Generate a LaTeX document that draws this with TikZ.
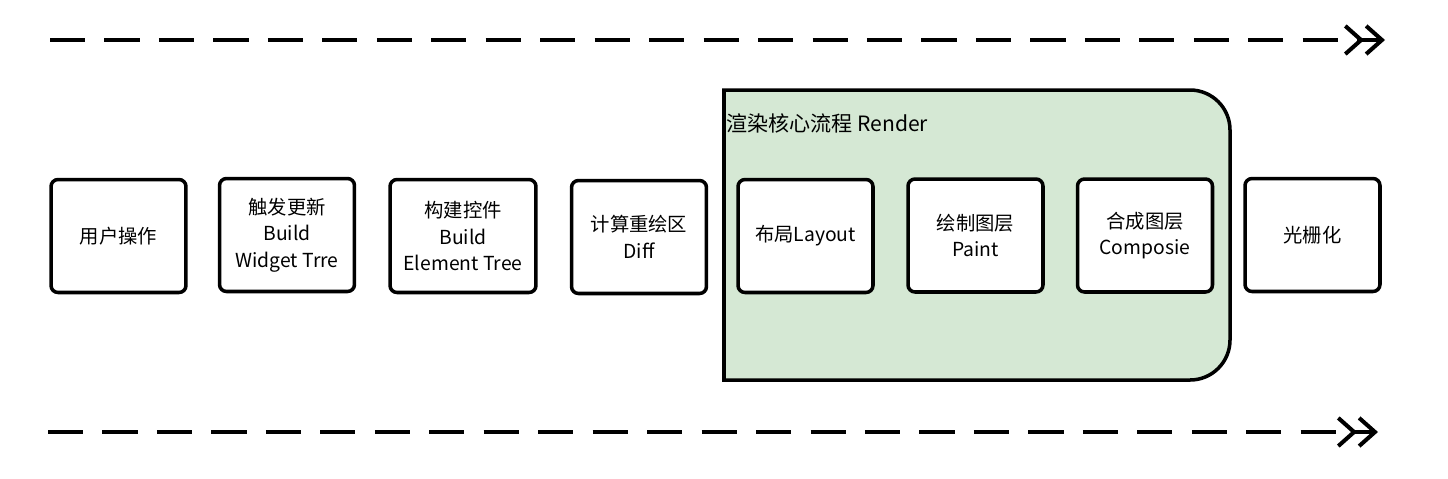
\documentclass[tikz,border=0pt]{standalone}
\usepackage{fontspec}
\setmainfont{Noto Sans CJK SC}
\usetikzlibrary{arrows.meta}
\definecolor{rgreen}{HTML}{D5E8D4}
\begin{document}
\begin{tikzpicture}[x=0.02cm,y=-0.02cm,
  stepbox/.style={draw=black,line width=2pt,fill=white,rounded corners=4pt,
    minimum width=2.7cm,minimum height=2.26cm,inner sep=1pt,align=center,
    font=\fontsize{11}{15}\selectfont},
  flowarrow/.style={line width=2.3pt,dash pattern=on 20pt off 11pt,
    -{Straight Barb[length=9pt,width=16pt,line width=2.3pt] Straight Barb[length=9pt,width=16pt,line width=2.3pt]}}]
\useasboundingbox (0,0) rectangle (1448,478);
% dashed flow arrows
\coordinate (t0) at (50,40);
\coordinate (t1) at (1385,40);
\coordinate (b0) at (48,432);
\coordinate (b1) at (1378,432);
\draw[flowarrow] (t0) -- (t1);
\draw[flowarrow] (b0) -- (b1);
% render container
\draw[line width=2pt,fill=rgreen] (724,90) -- (1190,90) arc[start angle=-90,end angle=0,radius=40] -- (1230,340) arc[start angle=0,end angle=90,radius=40] -- (724,380) -- cycle;
\node[anchor=west,font=\fontsize{12}{14}\selectfont,inner sep=1pt] (title) at (724,123) {渲染核心流程 Render};
% steps
\node[stepbox] (s1) at (118.5,236) {用户操作};
\node[stepbox] (s2) at (287,235) {触发更新\\Build\\Widget Trre};
\node[stepbox,minimum width=2.92cm] (s3) at (463,236) {构建控件\\Build\\Element Tree};
\node[stepbox] (s4) at (639,237) {计算重绘区\\Diff};
\node[stepbox] (s5) at (805.5,236) {布局Layout};
\node[stepbox] (s6) at (975.5,235.5) {绘制图层\\Paint};
\node[stepbox] (s7) at (1145,235.5) {合成图层\\Composie};
\node[stepbox] (s8) at (1312.5,235) {光栅化};
\end{tikzpicture}
\end{document}
